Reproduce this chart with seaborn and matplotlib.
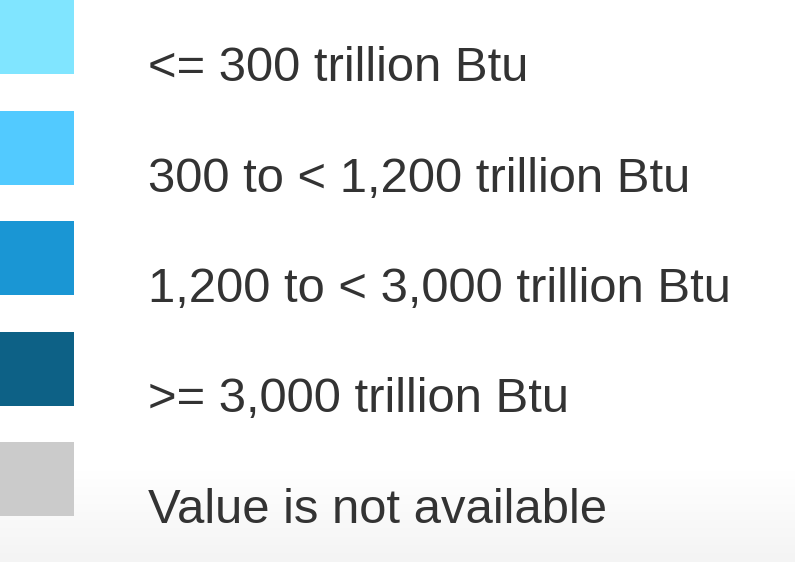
import numpy as np
import matplotlib
matplotlib.use("Agg")
import matplotlib.pyplot as plt
import seaborn as sns

# legend entries
labels = ["<= 300 trillion Btu",
          "300 to < 1,200 trillion Btu",
          "1,200 to < 3,000 trillion Btu",
          ">= 3,000 trillion Btu",
          "Value is not available"]
colors = ["#80E5FF", "#52CAFF", "#1A96D4", "#0D6186", "#CBCBCB"]

sns.set_theme(style="white")
plt.rcParams["font.family"] = ["Liberation Sans", "DejaVu Sans"]

W, H = 795, 562
fig = plt.figure(figsize=(W / 100, H / 100), dpi=100)
ax = fig.add_axes([0, 0, 1, 1])
ax.set_xlim(0, W)
ax.set_ylim(H, 0)
ax.axis("off")

# faint grey fade at the bottom
grad = np.ones((H, 1))
ys = np.arange(H)
grad[:, 0] = np.clip((ys - 470) / (H - 470), 0, 1)
ax.imshow(grad, cmap=matplotlib.colors.LinearSegmentedColormap.from_list(
    "fade", ["#FFFFFF", "#F4F4F4"]), extent=(0, W, H, 0), aspect="auto", zorder=0)

pitch = 110.5
size = 74
tops = np.arange(len(labels)) * pitch
ax.barh(tops, [size] * len(labels), height=size, left=0, align="edge",
        color=colors, edgecolor="none", zorder=2)

for top, lab in zip(tops, labels):
    ax.text(148, top + 81, lab, fontsize=35.3, color="#333333",
            va="baseline", ha="left", zorder=3)

fig.savefig("out.png", dpi=100)
